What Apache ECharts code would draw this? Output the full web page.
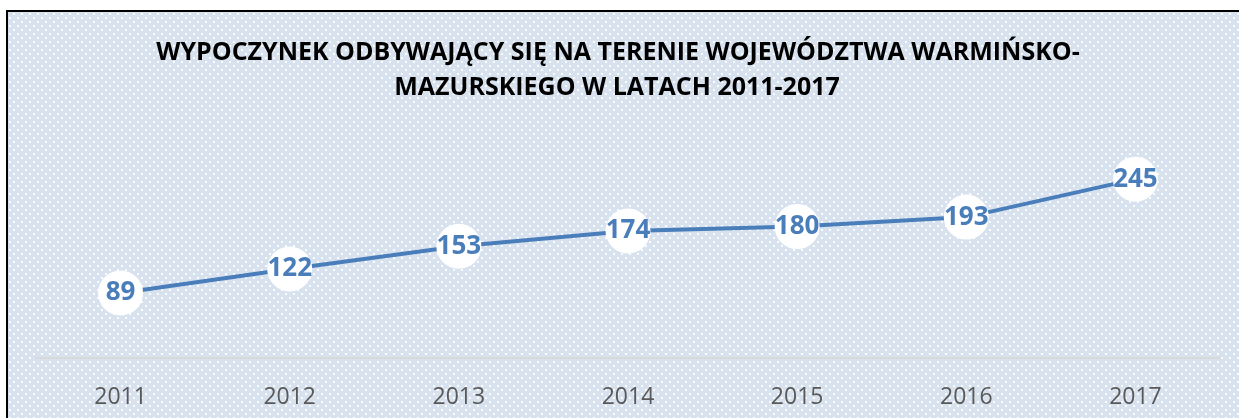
<!DOCTYPE html>
<html>
<head>
<meta charset="utf-8">
<script src="https://cdn.jsdelivr.net/npm/echarts@6/dist/echarts.min.js"></script>
<style>
  html, body { margin: 0; padding: 0; background: #ffffff; }
  #chart { width: 1239px; height: 418px; }
</style>
</head>
<body>
<div id="chart"></div>
<script>
const years = ['2011', '2012', '2013', '2014', '2015', '2016', '2017'];
const values = [89, 122, 153, 174, 180, 193, 245];
const titleLines = [
  'WYPOCZYNEK ODBYWAJĄCY SIĘ NA TERENIE WOJEWÓDZTWA WARMIŃSKO-',
  'MAZURSKIEGO W LATACH 2011-2017'
];

// dotted fill like the office chart area
function makePattern() {
  const c = document.createElement('canvas');
  c.width = 8;
  c.height = 8;
  const ctx = c.getContext('2d');
  ctx.fillStyle = '#d8e2ef';
  ctx.fillRect(0, 0, 8, 8);
  ctx.fillStyle = 'rgba(255,255,255,0.9)';
  ctx.fillRect(1, 1, 2, 2);
  ctx.fillRect(5, 5, 2, 2);
  return c;
}

const titleStyle = {
  fontFamily: 'Open Sans',
  fontWeight: 'bold',
  fontSize: 25,
  fill: '#000000',
  align: 'center',
  verticalAlign: 'middle'
};

const chart = echarts.init(document.getElementById('chart'));

const option = {
  backgroundColor: '#ffffff',
  animation: false,
  graphic: [
    {
      type: 'rect',
      z: -10,
      silent: true,
      shape: { x: 7, y: 11, width: 1300, height: 500 },
      style: {
        fill: { image: makePattern(), repeat: 'repeat' },
        stroke: '#000000',
        lineWidth: 2
      }
    },
    {
      type: 'text',
      x: 618,
      y: 53,
      style: Object.assign({ text: titleLines[0] }, titleStyle)
    },
    {
      type: 'text',
      x: 617,
      y: 88,
      style: Object.assign({ text: titleLines[1] }, titleStyle)
    }
  ],
  grid: { left: 36, right: 19, top: 139, bottom: 60 },
  xAxis: {
    type: 'category',
    data: years,
    boundaryGap: true,
    axisLine: { show: true, lineStyle: { color: '#d9d9d9', width: 2 } },
    axisTick: { show: false },
    axisLabel: {
      margin: 28,
      fontFamily: 'Open Sans',
      fontSize: 23,
      color: '#595959'
    }
  },
  yAxis: {
    type: 'value',
    min: 0,
    max: 300,
    show: false,
    splitLine: { show: false }
  },
  series: [
    {
      type: 'line',
      data: values,
      symbol: 'circle',
      symbolSize: 45,
      itemStyle: { color: '#ffffff', borderWidth: 0 },
      lineStyle: { color: '#4a7ebb', width: 4 },
      label: {
        show: true,
        position: 'inside',
        fontFamily: 'Open Sans',
        fontWeight: 'bold',
        fontSize: 26,
        color: '#4a7ebb'
      }
    }
  ]
};

chart.setOption(option);
</script>
</body>
</html>
